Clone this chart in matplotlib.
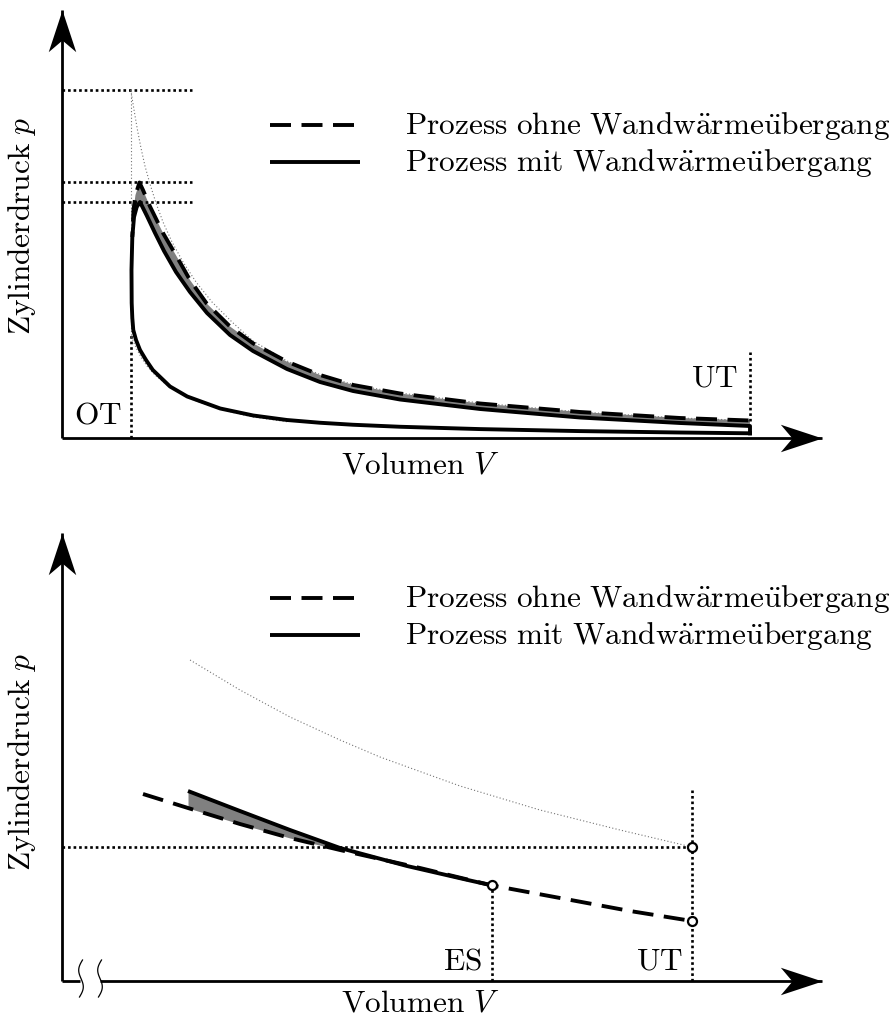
import numpy as np
import matplotlib
matplotlib.use("Agg")
import matplotlib.pyplot as plt
from matplotlib.path import Path
from matplotlib.lines import Line2D

plt.rcParams['mathtext.fontset'] = 'cm'
plt.rcParams['font.family'] = ['cmr10', 'DejaVu Serif']

FS = 22.6
W_PX, H_PX = 889, 1023

# ---------------- oberes Diagramm: Volumen (V_c = 1) / Druck (bar) ----------------
# Prozess mit Wandwaermeuebergang (geschlossene Schleife, ab UT)
mit_V = [10.0, 8.98, 7.53, 6.08, 4.91, 4.23, 3.75, 3.27, 2.78, 2.30, 1.82, 1.57, 1.32,
         1.221, 1.134, 1.076, 1.036, 1.022, 1.013, 1.010, 1.022, 1.047, 1.086, 1.134,
         1.235, 1.352, 1.483, 1.657, 1.860, 2.108, 2.442, 2.776, 3.270, 3.750, 4.230,
         4.913, 6.076, 7.529, 8.983, 10.0, 10.0]
mit_p = [0.94, 1.10, 1.38, 1.78, 2.25, 2.65, 3.05, 3.6, 4.5, 5.9, 8.3, 10.3, 13.6,
         15.6, 17.6, 19.6, 21.6, 24.0, 27.0, 33.6, 40.2, 44.2, 46.2, 47.2,
         44.4, 41.0, 37.4, 33.2, 29.2, 25.0, 20.6, 17.4, 13.8, 11.2, 9.4,
         7.7, 5.8, 4.1, 3.0, 2.4, 0.94]
mit_peak = 23          # Index Spitzendruck
mit_branch = 20        # Abzweig Prozess ohne Wandwaermeuebergang

# Prozess ohne Wandwaermeuebergang (ab Abzweig)
ohne_V = [1.022, 1.039, 1.068, 1.126, 1.177, 1.279, 1.472, 1.667, 1.860, 2.103, 2.442,
          2.781, 3.266, 3.750, 4.234, 4.913, 6.076, 7.529, 8.983, 10.0]
ohne_p = [40.2, 45.6, 48.6, 51.1, 49.6, 46.3, 40.9, 36.3, 31.6, 26.9, 22.3,
          18.9, 15.3, 12.6, 10.6, 8.9, 6.9, 5.2, 4.0, 3.5]

# idealer Vergleichsprozess
ideal_comp_V = [3.270, 2.776, 2.515, 2.151, 1.860, 1.672, 1.497, 1.352, 1.235, 1.148,
                1.090, 1.047, 1.0]
ideal_comp_p = [3.26, 4.2, 5.0, 6.4, 7.9, 9.3, 10.9, 12.6, 14.4, 16.2, 17.7, 19.0, 20.6]
ideal_exp_V = [1.0, 1.047, 1.097, 1.148, 1.206, 1.279, 1.366, 1.468, 1.599, 1.759, 1.948,
               2.180, 2.471, 2.776, 3.270, 3.750, 4.230, 4.913, 6.076, 7.529, 8.983, 10.0]
ideal_exp_p = [69.6, 65.6, 61.6, 58.0, 54.4, 50.8, 47.0, 43.2, 39.2, 35.2, 31.2,
               27.2, 23.2, 19.4, 15.4, 12.7, 10.7, 9.0, 7.0, 5.2, 4.0, 3.5]

V_OT, V_UT = 1.0, 10.0
p_levels = [69.6, 51.2, 47.2]

# ---------------- unteres Diagramm (Ausschnitt Expansion) ----------------
b_ohne_V = [5.425, 5.8, 6.233, 6.65, 7.067, 7.733, 8.333, 8.9, 9.483, 10.0]
b_ohne_p = [4.675, 4.325, 3.925, 3.575, 3.275, 2.825, 2.39, 2.075, 1.75, 1.5]
b_mit_V = [5.8, 6.233, 6.65, 7.067, 7.625, 8.15, 8.333]
b_mit_p = [4.75, 4.25, 3.775, 3.325, 2.875, 2.5125, 2.39]
b_ideal_V = [5.817, 6.233, 6.65, 7.067, 7.4, 8.067, 8.733, 9.4, 10.0]
b_ideal_p = [8.025, 7.275, 6.6, 6.025, 5.6, 4.875, 4.275, 3.775, 3.35]
V_ES = 8.333
p_ES = 2.39
p_UT_ideal = 3.35
p_UT_ohne = 1.5

labels = [r"$\mathrm{Prozess\ ohne\ Wandw\ddot{a}rme\ddot{u}bergang}$",
          r"$\mathrm{Prozess\ mit\ Wandw\ddot{a}rme\ddot{u}bergang}$"]
xlabel = r"$\mathrm{Volumen}\ V$"
ylabel = r"$\mathrm{Zylinderdruck}\ p$"

LW = 2.8
DASH = (0, (5.4, 2.7))
DOT = (0, (1, 1.1))
THIN = dict(color='0.45', lw=0.8, ls=(0, (1, 2)))
BLK_DOT = dict(color='k', lw=1.9, ls=DOT, dash_capstyle='butt')

# Pfeilspitzen (Stealth-Form)
ARROW_X = Path([(0, 0), (-1, 0.33), (-0.72, 0), (-1, -0.33), (0, 0)],
               [Path.MOVETO, Path.LINETO, Path.LINETO, Path.LINETO, Path.CLOSEPOLY])
ARROW_Y = Path([(0, 0), (0.33, -1), (0, -0.72), (-0.33, -1), (0, 0)],
               [Path.MOVETO, Path.LINETO, Path.LINETO, Path.LINETO, Path.CLOSEPOLY])


def draw_axes(ax, x0, y0, x_tip, y_tip, gap=None):
    """Achsen mit Pfeilspitzen"""
    ax.plot([x0, x0], [y0, y_tip], color='k', lw=2.0, solid_capstyle='butt')
    if gap is None:
        ax.plot([x0, x_tip], [y0, y0], color='k', lw=2.0, solid_capstyle='butt')
    else:
        ax.plot([x0, gap[0]], [y0, y0], color='k', lw=2.0, solid_capstyle='butt')
        ax.plot([gap[1], x_tip], [y0, y0], color='k', lw=2.0, solid_capstyle='butt')
    ax.plot([x_tip], [y0], marker=ARROW_X, ms=60, color='k', mew=0)
    ax.plot([x0], [y_tip], marker=ARROW_Y, ms=60, color='k', mew=0)


def legend(y_dash, y_solid):
    """Legende in Pixelkoordinaten"""
    for y, ls in [(y_dash, DASH), (y_solid, '-')]:
        fig.add_artist(Line2D([270 / W_PX, 360 / W_PX], [1 - y / H_PX] * 2,
                              color='k', lw=LW, ls=ls, solid_capstyle='butt',
                              dash_capstyle='butt', transform=fig.transFigure))
    for y, txt in zip([y_dash, y_solid], labels):
        fig.text(405 / W_PX, 1 - (y + 9) / H_PX, txt, fontsize=FS,
                 ha='left', va='baseline')


fig = plt.figure(figsize=(W_PX / 100, H_PX / 100), dpi=100)

# ---------------- oben ----------------
ax = fig.add_axes([0, 1 - 500 / H_PX, 1, 500 / H_PX])
ax.set_xlim(-62 / 68.8, 827 / 68.8)
ax.set_ylim(-62 / 5, 438 / 5)
ax.axis('off')

draw_axes(ax, 0, 0, 11.05, 85.6)

for p in p_levels:
    ax.plot([0, 1.89], [p, p], **BLK_DOT)
ax.plot([V_OT, V_OT], [0, ideal_comp_p[-1]], **BLK_DOT)
ax.plot([V_UT, V_UT], [ohne_p[-1], 17.2], **BLK_DOT)

# idealer Prozess
ax.plot(ideal_comp_V, ideal_comp_p, **THIN)
ax.plot([V_OT, V_OT], [ideal_comp_p[-1], ideal_exp_p[0]], **THIN)
ax.plot(ideal_exp_V, ideal_exp_p, **THIN)

# Verlustflaeche
fill_V = ohne_V + mit_V[mit_peak:-1][::-1] + mit_V[mit_branch + 1:mit_peak][::-1]
fill_p = ohne_p + mit_p[mit_peak:-1][::-1] + mit_p[mit_branch + 1:mit_peak][::-1]
ax.fill(fill_V, fill_p, color='#808080', lw=0)

ax.plot(ohne_V, ohne_p, color='k', lw=LW, ls=(4, (5.4, 2.7)), dash_capstyle='butt')
ax.plot(mit_V, mit_p, color='k', lw=LW, solid_joinstyle='round')

ax.text(0.872, 2.8, r"$\mathrm{OT}$", fontsize=FS, ha='right', va='baseline')
ax.text(9.826, 10.26, r"$\mathrm{UT}$", fontsize=FS, ha='right', va='baseline')
ax.text(5.203, -7.1, xlabel, fontsize=FS, ha='center', va='baseline')
ax.text(-0.581, 42.4, ylabel, fontsize=FS, ha='center', va='center', rotation=90)

# ---------------- unten ----------------
bx = fig.add_axes([0, 0, 1, 523 / H_PX])
bx.set_xlim(10 - 692 / 120, 10 + 197 / 120)
bx.set_ylim(-42 / 40, 481 / 40)
bx.axis('off')

draw_axes(bx, 4.75, 0, 11.083, 11.2, gap=(4.9, 5.067))

# Achsenbruch
t = np.linspace(-1, 1, 60)
for xc in [81, 100]:
    xs = xc + 1.5 * t - 3.0 * np.sin(np.pi * t)
    ys = 978.5 - 18.5 * t
    bx.plot(10 + (xs - 692) / 120, (981 - ys) / 40, color='k', lw=0.9)

bx.plot([4.75, V_UT], [p_UT_ideal, p_UT_ideal], **BLK_DOT)
bx.plot([V_UT, V_UT], [0, 4.775], **BLK_DOT)
bx.plot([V_ES, V_ES], [0, p_ES], **BLK_DOT)

bx.plot(b_ideal_V, b_ideal_p, **THIN)
bx.fill_between(b_mit_V[:4], b_mit_p[:4], b_ohne_p[1:5], color='#808080', lw=0)
bx.plot(b_ohne_V, b_ohne_p, color='k', lw=LW, ls=DASH, dash_capstyle='butt')
bx.plot(b_mit_V, b_mit_p, color='k', lw=LW, solid_capstyle='butt')

bx.plot([V_ES, V_UT, V_UT], [p_ES, p_UT_ideal, p_UT_ohne], ls='none', marker='o',
        ms=6.5, mfc='white', mec='k', mew=1.6)

bx.text(8.25, 0.275, r"$\mathrm{ES}$", fontsize=FS, ha='right', va='baseline')
bx.text(9.925, 0.275, r"$\mathrm{UT}$", fontsize=FS, ha='right', va='baseline')
bx.text(7.733, -0.75, xlabel, fontsize=FS, ha='center', va='baseline')
bx.text(4.417, 5.475, ylabel, fontsize=FS, ha='center', va='center', rotation=90)

legend(125, 162)
legend(598, 635)

fig.savefig("out.png", dpi=100)
